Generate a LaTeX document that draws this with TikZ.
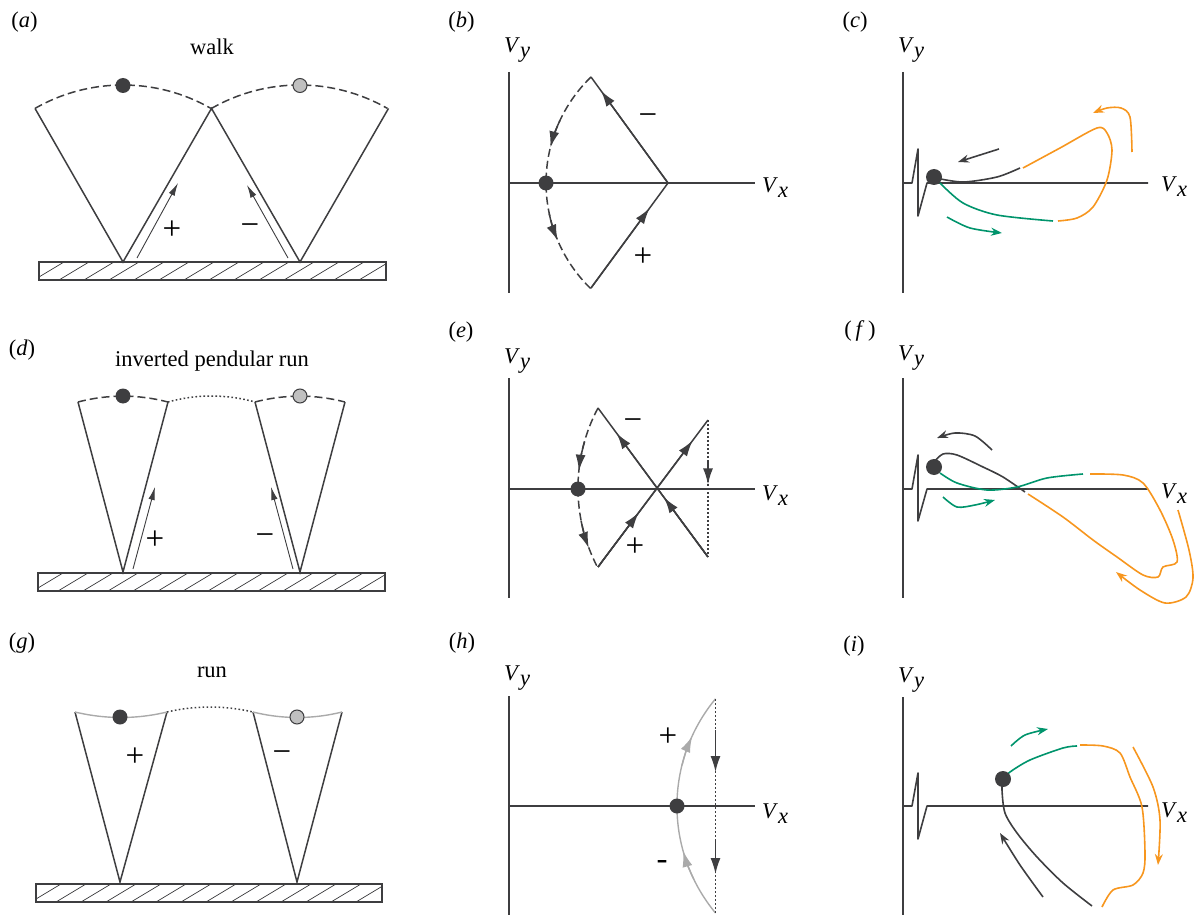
\documentclass[tikz,border=0pt]{standalone}
\usepackage{fontspec}
\setmainfont{Liberation Serif}
\usetikzlibrary{arrows.meta,calc}
\definecolor{dk}{RGB}{62,62,64}
\definecolor{lgr}{RGB}{192,192,192}
\definecolor{gy}{RGB}{170,170,170}
\definecolor{orng}{RGB}{247,150,30}
\definecolor{grn}{RGB}{0,148,108}
\newcommand{\groundbar}[3]{%
  \begin{scope}
    \clip (#1,#2) rectangle (#3,{#2+18});
    \foreach \hx in {-30,-5,...,370} \draw[hatch] ({#1+\hx},{#2+18}) -- ++(30,-18);
  \end{scope}
  \draw[groundbox] (#1,#2) rectangle (#3,{#2+18});
}
\newcommand{\Vlab}[1]{\textit{V}\raisebox{-5pt}{\textit{#1}}}
% arc tip: center, radius, angle from, angle to (tip), style
\newcommand{\arctip}[5]{\draw[#5,tipto] ($(#1)+(#3:#2)$) arc[start angle=#3,end angle=#4,radius=#2];}
\begin{document}
\begin{tikzpicture}[x=1pt,y=-1pt,
 ln/.style={color=dk,line width=1.5pt},
 axis/.style={color=dk,line width=1.6pt,line join=round},
 dashln/.style={color=dk,line width=1.5pt,dash pattern=on 8pt off 4pt},
 dotln/.style={color=dk,line width=1.5pt,dash pattern=on 1.6pt off 2.4pt},
 grayln/.style={color=gy,line width=1.4pt},
 thinarr/.style={color=dk,line width=0.9pt,-{Latex[length=13pt,width=6.5pt]}},
 hatch/.style={color=dk,line width=0.7pt},
 groundbox/.style={color=dk,line width=1.2pt},
 dotdark/.style={circle,fill=dk,inner sep=0pt,minimum size=15pt},
 dotlight/.style={circle,fill=lgr,draw=dk,line width=1pt,inner sep=0pt,minimum size=14pt},
 txt/.style={font=\fontsize{22.5}{26}\selectfont,inner sep=0pt},
 pm/.style={font=\fontsize{33}{36}\selectfont,inner sep=0pt},
 tipto/.style={-{Latex[length=16pt,width=10pt]}},
 orngln/.style={color=orng,line width=1.6pt},
 grnln/.style={color=grn,line width=1.6pt},
 dkcurve/.style={color=dk,line width=1.6pt},
 carrow/.style={-{Stealth[length=11pt,width=8pt]}},
]
\useasboundingbox (0,0) rectangle (1195,915);

% ---------------- (a) walk ----------------
\node[txt] (la) at (24.5,22) {(\textit{a})};
\node[txt,anchor=base] (walk) at (212,55) {walk};
\coordinate (aL) at (35,108.4);
\coordinate (aA) at (211.5,108.4);
\coordinate (aR) at (388.5,108.4);
\coordinate (aF1) at (123,262);
\coordinate (aF2) at (300,262);
\draw[ln] (aL) -- (aF1) -- (aA) -- (aF2) -- (aR);
\draw[dashln] (aL) arc[start angle=240.2,end angle=299.8,radius=177];
\draw[dashln] (aA) arc[start angle=240.2,end angle=299.8,radius=177];
\node[dotdark] (aD1) at (123,85.5) {};
\node[dotlight] (aD2) at (300,85.5) {};
\groundbar{39}{262}{386}
\coordinate (aP1) at (137,258); \coordinate (aP2) at (178,183);
\coordinate (aM1) at (288,258); \coordinate (aM2) at (247,185);
\draw[thinarr] (aP1) -- (aP2);
\draw[thinarr] (aM1) -- (aM2);
\node[pm] (aplus) at (172,230) {+};
\node[pm] (aminus) at (250,230) {−};

% ---------------- (b) ----------------
\node[txt] (lb) at (461.5,22) {(\textit{b})};
\node[txt,anchor=base west] (bVy) at (504,53) {\Vlab{y}};
\node[txt,anchor=base west] (bVx) at (762,193) {\Vlab{x}};
\draw[axis] (509,72) -- (509,293);
\draw[axis] (509,183) -- (755,183);
\coordinate (bT) at (591,77);
\coordinate (bB) at (591,288);
\coordinate (bV) at (668,183);
\coordinate (bC) at (693.3,183);
\draw[ln] (bB) -- (bV) -- (bT);
\draw[ln,tipto] (bB) -- ($(bB)!0.76!(bV)$);
\draw[ln,tipto] (bV) -- ($(bV)!0.87!(bT)$);
\draw[dashln] (bT) arc[start angle=226,end angle=134,radius=147.3];
\arctip{bC}{147.3}{205}{194}{ln}
\arctip{bC}{147.3}{168}{157}{ln}
\node[dotdark] (bD) at (546,183) {};
\node[pm] (bminus) at (648,120) {−};
\node[pm] (bplus) at (643,257) {+};

% ---------------- (c) ----------------
\node[txt] (lc) at (855,22) {(\textit{c})};
\node[txt,anchor=base west] (cVy) at (898,53) {\Vlab{y}};
\node[txt,anchor=base west] (cVx) at (1161,192) {\Vlab{x}};
\draw[axis] (903,72) -- (903,293);
\draw[axis] (903,183) -- (912,183) -- (918,149) -- (918,216) -- (927,183) -- (1148,183);
\draw[dkcurve] plot[smooth] coordinates {(936,178) (963,182) (997,177) (1020,168)};
\draw[orngln] plot[smooth] coordinates {(1023,168) (1060,148) (1097,128) (1107,133) (1112,150) (1107,180) (1093,207) (1077,218) (1058,221)};
\draw[grnln] plot[smooth] coordinates {(940,183) (963,203) (997,215) (1053,221)};
\draw[dkcurve,carrow] plot[smooth] coordinates {(999,149) (980,155) (958,162)};
\draw[grnln,carrow] plot[smooth] coordinates {(947,217) (970,228) (1002,233)};
\draw[orngln,carrow] plot[smooth] coordinates {(1132,152) (1130,117) (1121,108) (1107,108) (1093,113)};
\node[dotdark,minimum size=16pt] (cD) at (934,177) {};

% ---------------- (d) inverted pendular run ----------------
\node[txt] (ld) at (22,350) {(\textit{d})};
\node[txt,anchor=base] (ipr) at (212,366) {inverted pendular run};
\coordinate (dL1) at (78,402); \coordinate (dF1) at (123,572); \coordinate (dR1) at (168,402);
\coordinate (dL2) at (255,402); \coordinate (dF2) at (300,572); \coordinate (dR2) at (345,402);
\draw[ln] (dL1) -- (dF1) -- (dR1);
\draw[ln] (dL2) -- (dF2) -- (dR2);
\draw[dashln] (dL1) arc[start angle=255.2,end angle=284.8,radius=176];
\draw[dashln] (dL2) arc[start angle=255.2,end angle=284.8,radius=176];
\draw[dotln] (dR1) parabola bend (211.5,396) (dL2);
\node[dotdark] (dD1) at (123,396) {};
\node[dotlight] (dD2) at (300,396) {};
\groundbar{38}{573}{385}
\coordinate (dP1) at (133,569); \coordinate (dP2) at (155,487);
\coordinate (dM1) at (293,569); \coordinate (dM2) at (271,487);
\draw[thinarr] (dP1) -- (dP2);
\draw[thinarr] (dM1) -- (dM2);
\node[pm] (dplus) at (155,540) {+};
\node[pm] (dminus) at (265,540) {−};

% ---------------- (e) ----------------
\node[txt] (le) at (461,332) {(\textit{e})};
\node[txt,anchor=base west] (eVy) at (504,363) {\Vlab{y}};
\node[txt,anchor=base west] (eVx) at (762,500) {\Vlab{x}};
\draw[axis] (509,378) -- (509,598);
\draw[axis] (509,489) -- (755,489);
\coordinate (eUL) at (598,408);
\coordinate (eLL) at (598,567);
\coordinate (eUR) at (708,420);
\coordinate (eLR) at (708,557);
\coordinate (eC) at (748,488.5);
\draw[ln] (eLL) -- (eUR);
\draw[ln] (eLR) -- (eUL);
\draw[ln,tipto] (eLL) -- ($(eLL)!0.37!(eUR)$);
\draw[ln,tipto] (eLL) -- ($(eLL)!0.86!(eUR)$);
\draw[ln,tipto] (eLR) -- ($(eLR)!0.4!(eUL)$);
\draw[ln,tipto] (eLR) -- ($(eLR)!0.83!(eUL)$);
\draw[dotln] (eUR) -- (eLR);
\draw[ln,tipto] ($(eUR)!0.3!(eLR)$) -- ($(eUR)!0.47!(eLR)$);
\draw[dashln] (eUL) arc[start angle=208.1,end angle=152.3,radius=170];
\arctip{eC}{170}{196}{186}{ln}
\arctip{eC}{170}{169}{159.5}{ln}
\node[dotdark] (eD) at (578,489) {};
\node[pm] (eminus) at (633,425) {−};
\node[pm] (eplus) at (635,547) {+};

% ---------------- (f) ----------------
\node[txt] (lf) at (860,331) {(\,\textit{f}\,)};
\node[txt,anchor=base west] (fVy) at (898,360) {\Vlab{y}};
\node[txt,anchor=base west] (fVx) at (1161,498) {\Vlab{x}};
\draw[axis] (903,378) -- (903,598);
\draw[axis] (903,489) -- (912,489) -- (918,455) -- (918,521) -- (927,489) -- (1148,489);
\draw[dkcurve] plot[smooth] coordinates {(934,462) (943,454) (957,455) (983,467) (1003,477) (1025,492)};
\draw[orngln] plot[smooth] coordinates {(1028,494) (1063,517) (1093,540) (1117,557) (1143,575) (1158,577) (1163,567) (1177,562) (1173,540) (1160,510) (1143,483) (1123,475) (1090,474)};
\draw[grnln] plot[smooth] coordinates {(940,473) (957,483) (987,490) (1017,487) (1047,478) (1083,474)};
\draw[dkcurve,carrow] plot[smooth] coordinates {(992,450) (975,436) (955,433) (937,438)};
\draw[grnln,carrow] plot[smooth] coordinates {(943,497) (957,507) (975,505) (995,500)};
\draw[orngln,carrow] plot[smooth] coordinates {(1178,510) (1189,550) (1193,578) (1186,597) (1165,603) (1140,590) (1116,572)};
\node[dotdark,minimum size=16pt] (fD) at (934,467) {};

% ---------------- (g) run ----------------
\node[txt] (lg) at (22,643) {(\textit{g})};
\node[txt,anchor=base] (runl) at (212,677) {run};
\coordinate (gL1) at (75,712); \coordinate (gF1) at (120,882); \coordinate (gR1) at (167,712);
\coordinate (gL2) at (253,712); \coordinate (gF2) at (297,882); \coordinate (gR2) at (342,712);
\draw[ln] (gL1) -- (gF1) -- (gR1);
\draw[ln] (gL2) -- (gF2) -- (gR2);
\draw[grayln] (gL1) parabola bend (121,717.5) (gR1);
\draw[grayln] (gL2) parabola bend (297.5,717.5) (gR2);
\draw[dotln] (gR1) parabola bend (210,707) (gL2);
\node[dotdark] (gD1) at (120,717) {};
\node[dotlight] (gD2) at (297,717) {};
\groundbar{36}{884}{382}
\node[pm] (gplus) at (135,757) {+};
\node[pm] (gminus) at (282,757) {−};

% ---------------- (h) ----------------
\node[txt] (lh) at (462,643) {(\textit{h})};
\node[txt,anchor=base west] (hVy) at (504,680) {\Vlab{y}};
\node[txt,anchor=base west] (hVx) at (762,818) {\Vlab{x}};
\draw[axis] (509,696) -- (509,915);
\draw[axis] (509,806) -- (755,806);
\coordinate (hT) at (715.5,699);
\coordinate (hB) at (715.5,913);
\coordinate (hC) at (845,806);
\draw[grayln] (hB) arc[start angle=140.4,end angle=219.6,radius=168];
\arctip{hC}{168}{154}{164.5}{grayln}
\arctip{hC}{168}{194}{204.5}{grayln}
\draw[dotln] (hT) -- (hB);
\draw[ln,tipto] (715.5,730) -- (715.5,772);
\draw[ln,tipto] (715.5,840) -- (715.5,874);
\node[dotdark] (hD) at (677,806) {};
\node[pm] (hplus) at (668,737) {+};
\node[pm] (hminus) at (662,865) {-};

% ---------------- (i) ----------------
\node[txt] (li) at (854,646) {(\textit{i})};
\node[txt,anchor=base west] (iVy) at (898,682) {\Vlab{y}};
\node[txt,anchor=base west] (iVx) at (1161,817) {\Vlab{x}};
\draw[axis] (903,697) -- (903,915);
\draw[axis] (903,806) -- (912,806) -- (918,773) -- (918,839) -- (927,806) -- (1148,806);
\draw[grnln] plot[smooth] coordinates {(1003,779) (1010,772) (1030,760) (1063,748) (1077,746)};
\draw[orngln] plot[smooth] coordinates {(1080,745) (1103,746) (1120,753) (1130,777) (1142,807) (1145,853) (1143,873) (1133,885) (1113,890) (1102,907)};
\draw[dkcurve] plot[smooth] coordinates {(1003,780) (1002,790) (1005,813) (1017,833) (1037,857) (1063,883) (1092,906)};
\draw[dkcurve,carrow] plot[smooth] coordinates {(1043,897) (1020,865) (1000,833)};
\draw[grnln,carrow] plot[smooth] coordinates {(1011,746) (1025,735) (1048,729)};
\draw[orngln,carrow] plot[smooth] coordinates {(1133,747) (1153,787) (1160,820) (1158,865)};
\node[dotdark,minimum size=16pt] (iD) at (1003,779) {};
\end{tikzpicture}
\end{document}
